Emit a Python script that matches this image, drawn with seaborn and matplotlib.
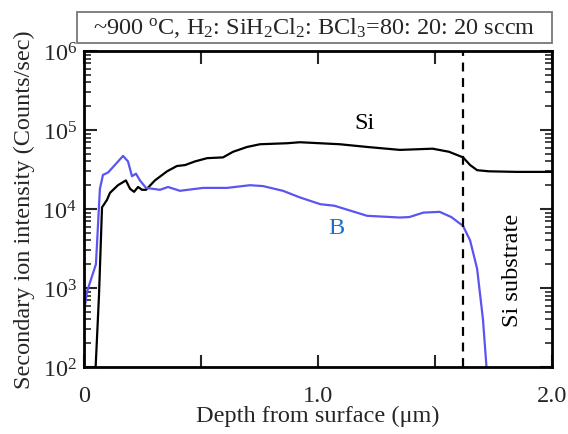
import numpy as np
import pandas as pd
import matplotlib
matplotlib.use("Agg")
import matplotlib.pyplot as plt
from matplotlib.patches import Rectangle
from matplotlib.ticker import FixedLocator, FixedFormatter, LogLocator, NullFormatter
import seaborn as sns

# ---- data ----
si_depth = [0.045, 0.064, 0.077, 0.098, 0.111, 0.145, 0.179, 0.197, 0.214, 0.231, 0.248, 0.265,
            0.303, 0.355, 0.397, 0.432, 0.474, 0.526, 0.594, 0.637, 0.697, 0.752, 0.868, 0.923,
            1.094, 1.21, 1.35, 1.49, 1.56, 1.62, 1.65, 1.68, 1.73, 1.85, 2.0]
si_counts = [50, 8e2, 1.05e4, 1.3e4, 1.6e4, 2.0e4, 2.3e4, 1.8e4, 1.65e4, 1.9e4, 1.75e4, 1.75e4,
             2.3e4, 3.0e4, 3.5e4, 3.6e4, 4.0e4, 4.4e4, 4.5e4, 5.3e4, 6.1e4, 6.6e4, 6.8e4, 7.0e4,
             6.6e4, 6.1e4, 5.6e4, 5.8e4, 5.3e4, 4.5e4, 3.6e4, 3.1e4, 3.0e4, 2.95e4, 2.95e4]

b_depth = [0.0, 0.013, 0.051, 0.068, 0.081, 0.103, 0.167, 0.188, 0.205, 0.222, 0.239, 0.265,
           0.325, 0.359, 0.41, 0.509, 0.611, 0.709, 0.765, 0.85, 0.923, 1.01, 1.07, 1.21,
           1.35, 1.39, 1.45, 1.52, 1.57, 1.62, 1.65, 1.68, 1.705, 1.72, 1.725]
b_counts = [5e2, 9e2, 2e3, 1.8e4, 2.7e4, 2.9e4, 4.7e4, 4.0e4, 2.6e4, 2.8e4, 2.3e4, 1.85e4,
            1.75e4, 1.9e4, 1.7e4, 1.85e4, 1.85e4, 2.0e4, 1.95e4, 1.7e4, 1.4e4, 1.15e4, 1.1e4, 8.2e3,
            7.8e3, 7.9e3, 9.0e3, 9.2e3, 7.9e3, 6.1e3, 4.0e3, 1.75e3, 4e2, 1e2, 50]

interface_depth = 1.62
x_ticks = [0, 0.5, 1.0, 1.5, 2.0]
x_tick_labels = ["0", "", "1.0", "", "2.0"]
y_ticks = [1e2, 1e3, 1e4, 1e5, 1e6]
y_tick_labels = ["$10^{2}$", "$10^{3}$", "$10^{4}$", "$10^{5}$", "$10^{6}$"]
title_text = "~900 $^{\\mathrm{o}}$C, H$_2$: SiH$_2$Cl$_2$: BCl$_3$=80: 20: 20 sccm"

# ---- styling ----
sns.set_style("ticks")
plt.rcParams["font.family"] = ["Liberation Serif", "DejaVu Serif"]
plt.rcParams["mathtext.fontset"] = "custom"
plt.rcParams["mathtext.rm"] = "Liberation Serif"
plt.rcParams["mathtext.it"] = "Liberation Serif:italic"
plt.rcParams["mathtext.bf"] = "Liberation Serif:bold"

FS = 17.5

fig = plt.figure(figsize=(5.68, 4.35), dpi=100)
ax = fig.add_axes([84/568, 1-368/435, (552-84)/568, (368-52)/435])

df_si = pd.DataFrame({"depth": si_depth, "counts": si_counts})
df_b = pd.DataFrame({"depth": b_depth, "counts": b_counts})
sns.lineplot(data=df_si, x="depth", y="counts", ax=ax, color="black", lw=1.6, sort=False)
sns.lineplot(data=df_b, x="depth", y="counts", ax=ax, color="#5a55f0", lw=1.6, sort=False)
ax.axvline(interface_depth, color="black", ls=(0, (4, 3)), lw=1.6)

ax.set_yscale("log")
ax.set_xlim(0, 2.0)
ax.set_ylim(1e2, 1e6)

ax.xaxis.set_major_locator(FixedLocator(x_ticks))
ax.xaxis.set_major_formatter(FixedFormatter(x_tick_labels))
ax.yaxis.set_major_locator(FixedLocator(y_ticks))
ax.yaxis.set_major_formatter(FixedFormatter(y_tick_labels))
ax.yaxis.set_minor_locator(LogLocator(base=10, subs=np.arange(2, 10), numticks=20))
ax.yaxis.set_minor_formatter(NullFormatter())

ax.tick_params(which="major", direction="in", length=9, width=1.5, top=True, right=True,
               labelsize=FS, pad=5)
ax.tick_params(axis="x", which="major", pad=13)
ax.tick_params(which="minor", direction="in", length=5, width=1.2, top=True, right=True)
for s in ax.spines.values():
    s.set_linewidth(2)
    s.set_color("black")

ax.set_xlabel("Depth from surface (\u03bcm)", fontsize=FS, labelpad=-1)
ax.set_ylabel("Secondary ion intensity (Counts/sec)", fontsize=FS, labelpad=5)

ax.text(1.20, 1.25e5, "Si", fontsize=FS, ha="center", va="center", color="black")
ax.text(1.08, 5.9e3, "B", fontsize=FS, ha="center", va="center", color="#1f6fc8")
ax.text(1.83, 1.7e3, "Si substrate", fontsize=FS, ha="center", va="center", rotation=90,
        color="black")

# title box
fig.patches.append(Rectangle((77/568, 1-44/435), (552-77)/568, 31/435, transform=fig.transFigure,
                             fill=False, edgecolor="#777777", lw=1.3))
fig.text((77+552)/2/568, 1-28.5/435, title_text, fontsize=FS, ha="center", va="center")

fig.savefig("out.png", dpi=100)
